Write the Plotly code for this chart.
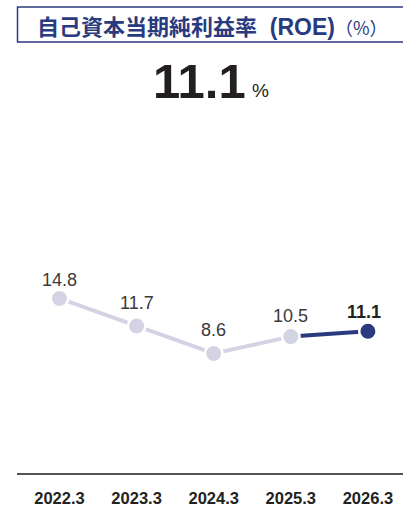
import plotly.graph_objects as go

categories = ["2022.3", "2023.3", "2024.3", "2025.3", "2026.3"]
roe_values = [14.8, 11.7, 8.6, 10.5, 11.1]
headline_value = "11.1"

LIGHT = "#d4d3e4"
NAVY = "#2a3a7e"
TEXT = "#3a3a3a"

W, H = 403, 507
ML, MR, MT, MB = 17, 0, 120, 29
PW, PH = W - ML - MR, H - MT - MB

def px_x(px):
    return (px - ML) / PW

def px_y(py):
    return (H - MB - py) / PH

xs = list(range(len(categories)))

fig = go.Figure()
fig.add_trace(go.Scatter(x=xs[:4], y=roe_values[:4], mode="lines",
                         line=dict(color=LIGHT, width=4), hoverinfo="skip"))
fig.add_trace(go.Scatter(x=xs[3:], y=roe_values[3:], mode="lines",
                         line=dict(color=NAVY, width=4), hoverinfo="skip"))
fig.add_trace(go.Scatter(x=xs, y=roe_values, mode="markers",
                         marker=dict(size=17.5,
                                     color=[LIGHT] * 4 + [NAVY],
                                     line=dict(color="white", width=2.5)),
                         hoverinfo="skip"))

label_shift = [18, 23, 23, 20.5, 19.5]
for i, (x, v) in enumerate(zip(xs, roe_values)):
    last = i == len(xs) - 1
    fig.add_annotation(x=x, y=v, xref="x", yref="y",
                       text=(f"<b>{v:.1f}</b>" if last else f"{v:.1f}"),
                       showarrow=False, yshift=label_shift[i],
                       xshift=(-4 if last else 0),
                       font=dict(family="Liberation Sans, Arial, sans-serif",
                                 size=18, color="#222222" if last else TEXT))

# title box
fig.add_shape(type="rect", xref="paper", yref="paper",
              x0=px_x(17.5), x1=px_x(410), y0=px_y(41), y1=px_y(5.5),
              line=dict(color=NAVY, width=1.5), fillcolor="white", layer="below")
fig.add_annotation(xref="paper", yref="paper", x=px_x(36), y=px_y(24),
                   xanchor="left", yanchor="middle", showarrow=False, borderpad=0,
                   text=('<b>自己資本当期純利益率'
                         '<span style="font-family:Liberation Sans, Arial, sans-serif;font-size:23px">'
                         '\u00a0\u00a0(ROE)</span></b>'
                         '<span style="font-size:18px">（%）</span>'),
                   font=dict(family="Noto Sans CJK JP, sans-serif", size=22, color=NAVY))

# headline
fig.add_annotation(xref="paper", yref="paper", x=px_x(247), y=px_y(80),
                   xanchor="right", yanchor="middle", showarrow=False, borderpad=0,
                   text=f"<b>{headline_value}</b>",
                   font=dict(family="Liberation Sans, Arial, sans-serif", size=49, color="#231f20"))
fig.add_annotation(xref="paper", yref="paper", x=px_x(251), y=px_y(90),
                   xanchor="left", yanchor="middle", showarrow=False, borderpad=0,
                   text="%",
                   font=dict(family="Liberation Sans, Arial, sans-serif", size=19, color="#231f20"))

fig.update_layout(
    width=W, height=H,
    margin=dict(l=ML, r=MR, t=MT, b=MB, pad=0),
    paper_bgcolor="white", plot_bgcolor="white",
    showlegend=False,
    xaxis=dict(range=[-0.551, 4.455], tickmode="array", tickvals=xs, ticktext=categories,
               showgrid=False, zeroline=False, showline=True, linecolor="#555555", linewidth=1.5,
               ticks="", ticklabelstandoff=9,
               tickfont=dict(family="Liberation Sans, Arial, sans-serif",
                             size=16.5, color="#222222", weight="bold"),
               fixedrange=True),
    yaxis=dict(range=[-4.87, 34.91], visible=False, fixedrange=True),
)

fig.write_html("out.html", config={"displayModeBar": False},
               post_script="document.body.style.margin='0';document.body.style.padding='0';")
